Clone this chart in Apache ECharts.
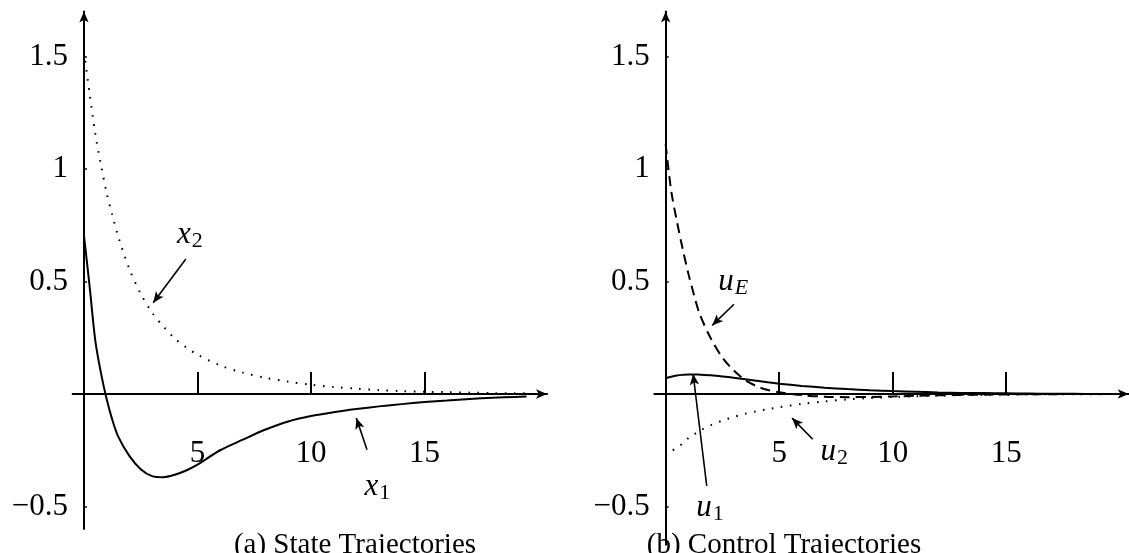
<!DOCTYPE html>
<html>
<head>
<meta charset="utf-8">
<script src="https://cdn.jsdelivr.net/npm/echarts@6/dist/echarts.min.js"></script>
<style>
  html, body { margin: 0; padding: 0; background: #fff; }
  #main { width: 1129px; height: 553px; }
</style>
</head>
<body>
<div id="main"></div>
<script>
// sample times (shared by all curves)
const tVals = [0, 0.25, 0.5, 0.75, 1, 1.25, 1.5, 2, 2.5, 3, 3.5, 4, 4.5, 5, 6, 7, 8, 9, 10, 11, 12, 13, 14, 15, 16, 17, 18, 19, 19.5]

// (a) state trajectories
const x1Vals = [0.705, 0.478, 0.237, 0.093, -0.022, -0.115, -0.187, -0.275, -0.334, -0.365, -0.37, -0.359, -0.34, -0.314, -0.25, -0.203, -0.158, -0.122, -0.098, -0.081, -0.067, -0.055, -0.045, -0.036, -0.029, -0.022, -0.017, -0.013, -0.011]
const x2Vals = [1.52, 1.335, 1.155, 1.018, 0.893, 0.795, 0.703, 0.556, 0.446, 0.362, 0.30, 0.247, 0.207, 0.175, 0.127, 0.095, 0.072, 0.055, 0.041, 0.031, 0.024, 0.017, 0.013, 0.010, 0.008, 0.006, 0.004, 0.003, 0.003]

// (b) control trajectories
const u1Vals = [0.070, 0.077, 0.082, 0.085, 0.087, 0.087, 0.086, 0.083, 0.078, 0.072, 0.066, 0.059, 0.052, 0.046, 0.036, 0.028, 0.022, 0.017, 0.013, 0.010, 0.007, 0.005, 0.004, 0.003, 0.002, 0.001, 0.001, 0, 0]
const u2Vals = [-0.275, -0.255, -0.238, -0.22, -0.196, -0.18, -0.163, -0.138, -0.118, -0.102, -0.088, -0.077, -0.067, -0.059, -0.044, -0.033, -0.024, -0.018, -0.013, -0.010, -0.007, -0.005, -0.004, -0.003, -0.002, -0.001, -0.001, -0.001, 0]
const uEVals = [1.11, 0.90, 0.765, 0.645, 0.535, 0.44, 0.355, 0.245, 0.162, 0.105, 0.062, 0.035, 0.018, 0.008, -0.005, -0.012, -0.014, -0.013, -0.011, -0.008, -0.006, -0.004, -0.003, -0.002, -0.001, -0.001, 0, 0, 0]

// tick labels
const xTicks = [5, 10, 15]
const yTicks = [-0.5, 0.5, 1, 1.5]
const panelTitles = ['(a) State Trajectories', '(b) Control Trajectories']

// curve annotations: label anchor, arrow start, arrow end (data coords)
const notesA = [
  { text: '{v|x}{s|2}', at: [4.67, 0.707], from: [4.49, 0.60], to: [3.05, 0.406] },
  { text: '{v|x}{s|1}', at: [12.93, -0.412], from: [12.47, -0.248], to: [12.0, -0.107] }
]
const notesB = [
  { text: '{v|u}{si|E}', at: [2.98, 0.50], from: [3.01, 0.399], to: [2.05, 0.305] },
  { text: '{v|u}{s|1}', at: [1.95, -0.507], from: [1.81, -0.409], to: [1.21, 0.089] },
  { text: '{v|u}{s|2}', at: [7.43, -0.256], from: [6.48, -0.201], to: [5.57, -0.107] }
]

const serif = 'Liberation Serif'
const X_MIN = -0.5
const X_MAX = 20.4
const Y_MAX = 1.7
const PX_X = 22.7   // px per time unit
const PX_Y = 225    // px per y unit
const zip = ys => tVals.map((t, i) => [t, ys[i]])
const fmtY = v => (v < 0 ? '\u2212' + Math.abs(v) : String(v))

// axes cross at zero: shift them in from the grid edges
function xAxis (gridIndex, yMin) {
  return {
    type: 'value',
    gridIndex,
    min: X_MIN,
    max: X_MAX,
    position: 'bottom',
    offset: yMin * PX_Y,
    axisLine: {
      onZero: false,
      symbol: ['none', 'arrow'],
      symbolSize: [7, 11],
      lineStyle: { color: '#000', width: 2 }
    },
    axisTick: { show: true, inside: true, length: 22, customValues: xTicks, lineStyle: { color: '#000', width: 2 } },
    axisLabel: { customValues: xTicks, margin: 44, color: '#000', fontFamily: serif, fontSize: 31 },
    splitLine: { show: false }
  }
}

function yAxis (gridIndex, min) {
  return {
    type: 'value',
    gridIndex,
    min,
    max: Y_MAX,
    position: 'left',
    offset: X_MIN * PX_X,
    axisLine: {
      onZero: false,
      symbol: ['none', 'arrow'],
      symbolSize: [7, 11],
      lineStyle: { color: '#000', width: 2 }
    },
    axisTick: { show: true, inside: true, length: 3, customValues: yTicks, lineStyle: { color: '#000', width: 1.5 } },
    axisLabel: { customValues: yTicks, margin: 16, color: '#000', fontFamily: serif, fontSize: 31, formatter: fmtY },
    splitLine: { show: false }
  }
}

function curve (idx, ys, type) {
  const dashes = { solid: 'solid', dotted: [1.6, 7.5], dashed: [10, 6] }
  return {
    type: 'line',
    xAxisIndex: idx,
    yAxisIndex: idx,
    data: zip(ys),
    showSymbol: false,
    smooth: 0.3,
    lineStyle: { color: '#000', width: 2, type: dashes[type] },
    silent: true
  }
}

function notes (idx, list) {
  return {
    type: 'scatter',
    xAxisIndex: idx,
    yAxisIndex: idx,
    symbolSize: 0,
    silent: true,
    itemStyle: { opacity: 1 },
    data: list.map(n => ({ value: n.at, note: n.text })),
    label: {
      show: true,
      position: 'inside',
      color: '#000',
      textBorderWidth: 0,
      formatter: p => p.data.note,
      rich: {
        v: { fontFamily: serif, fontStyle: 'italic', fontSize: 31, lineHeight: 31, color: '#000', verticalAlign: 'top' },
        s: { fontFamily: serif, fontSize: 22, lineHeight: 22, color: '#000', verticalAlign: 'top', padding: [11, 0, 0, 1] },
        si: { fontFamily: serif, fontStyle: 'italic', fontSize: 22, lineHeight: 22, color: '#000', verticalAlign: 'top', padding: [11, 0, 0, 1] }
      }
    },
    markLine: {
      silent: true,
      symbol: ['none', 'arrow'],
      symbolSize: [7, 11],
      label: { show: false },
      lineStyle: { color: '#000', width: 1.6, type: 'solid' },
      data: list.map(n => [{ coord: n.from }, { coord: n.to }])
    }
  }
}

const chart = echarts.init(document.getElementById('main'))
chart.setOption({
  animation: false,
  backgroundColor: '#fff',
  title: [
    { text: panelTitles[0], left: 350, top: 526, textAlign: 'center', textStyle: { fontFamily: serif, fontSize: 29, fontWeight: 'normal', color: '#000' } },
    { text: panelTitles[1], left: 779, top: 526, textAlign: 'center', textStyle: { fontFamily: serif, fontSize: 29, fontWeight: 'normal', color: '#000' } }
  ],
  grid: [
    { left: 72.6, top: 11.5, width: 474.4, height: (Y_MAX + 0.6) * PX_Y, containLabel: false, outerBoundsMode: 'none' },
    { left: 654.3, top: 11.5, width: 474.4, height: (Y_MAX + 0.67) * PX_Y, containLabel: false, outerBoundsMode: 'none' }
  ],
  xAxis: [xAxis(0, -0.6), xAxis(1, -0.67)],
  yAxis: [yAxis(0, -0.6), yAxis(1, -0.67)],
  series: [
    curve(0, x1Vals, 'solid'),
    curve(0, x2Vals, 'dotted'),
    notes(0, notesA),
    curve(1, u1Vals, 'solid'),
    curve(1, u2Vals, 'dotted'),
    curve(1, uEVals, 'dashed'),
    notes(1, notesB)
  ]
})
</script>
</body>
</html>
